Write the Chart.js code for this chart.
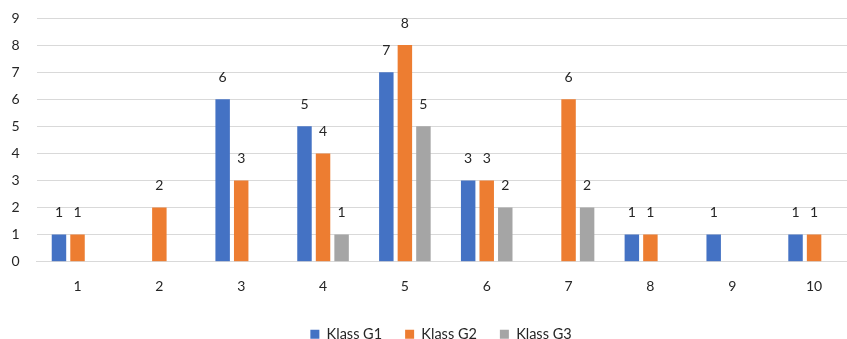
<!DOCTYPE html>
<html>
<head>
<meta charset="utf-8">
<script src="https://cdn.jsdelivr.net/npm/chart.js@4.4.1/dist/chart.umd.min.js"></script>
<style>
  html, body { margin: 0; padding: 0; overflow: hidden; background: #ffffff; }
  #wrap { position: relative; width: 870px; height: 339px; }
</style>
</head>
<body>
<div id="wrap"><canvas id="chart" width="870" height="339"></canvas></div>
<script>
// Categories along the x axis
const categories = ['1', '2', '3', '4', '5', '6', '7', '8', '9', '10'];

// Counts per class
const klassG1 = [1, 0, 6, 5, 7, 3, 0, 1, 1, 1];
const klassG2 = [1, 2, 3, 4, 8, 3, 6, 1, 0, 1];
const klassG3 = [0, 0, 0, 1, 5, 2, 2, 0, 0, 0];

const seriesNames = ['Klass G1', 'Klass G2', 'Klass G3'];
const seriesColors = ['#4472C4', '#ED7D31', '#A5A5A5'];

const FONT = 'Lato, "Open Sans", sans-serif';
const TEXT = '#262626';

// Writes each non-zero value just above its bar
const valueLabels = {
  id: 'valueLabels',
  afterDatasetsDraw(chart) {
    const ctx = chart.ctx;
    ctx.save();
    ctx.font = '14px ' + FONT;
    ctx.fillStyle = TEXT;
    ctx.textAlign = 'center';
    ctx.textBaseline = 'bottom';
    chart.data.datasets.forEach((ds, di) => {
      const meta = chart.getDatasetMeta(di);
      meta.data.forEach((bar, i) => {
        const v = ds.data[i];
        if (!v) return;
        ctx.fillText(String(v), bar.x, bar.y - 15);
      });
    });
    ctx.restore();
  }
};

// Places the legend row centred under the plot, near the bottom edge
const legendPlacement = {
  id: 'legendPlacement',
  afterLayout(chart) {
    const lg = chart.legend;
    if (!lg) return;
    const dx = 13.5;
    const dy = 304 - lg.top;
    lg.left += dx; lg.right += dx;
    lg.top += dy; lg.bottom += dy;
  }
};

new Chart(document.getElementById('chart'), {
  type: 'bar',
  data: {
    labels: categories,
    datasets: [klassG1, klassG2, klassG3].map((vals, k) => ({
      label: seriesNames[k],
      data: vals,
      backgroundColor: seriesColors[k],
      borderWidth: 0,
      categoryPercentage: 0.68,
      barPercentage: 0.78
    }))
  },
  options: {
    responsive: false,
    animation: false,
    layout: { padding: { left: 0, right: 15, top: 18, bottom: -19 } },
    plugins: {
      legend: {
        position: 'bottom',
        labels: {
          font: { family: FONT, size: 14.5 },
          color: TEXT,
          boxWidth: 9,
          boxHeight: 9,
          padding: 23
        }
      },
      tooltip: { enabled: false }
    },
    scales: {
      x: {
        grid: { display: false, drawTicks: false },
        border: { display: true, color: '#D9D9D9', width: 1 },
        ticks: { font: { family: FONT, size: 14 }, color: TEXT, padding: 16, maxRotation: 0 }
      },
      y: {
        min: 0,
        max: 9,
        grid: { color: '#D9D9D9', lineWidth: 1, drawTicks: false },
        border: { display: false },
        ticks: { stepSize: 1, font: { family: FONT, size: 14 }, color: TEXT, padding: 17 },
        afterFit(scale) {
          scale.width = 36.6;
          scale.paddingTop = 0;
          scale.paddingBottom = 0;
        }
      }
    }
  },
  plugins: [valueLabels, legendPlacement]
});
</script>
</body>
</html>
